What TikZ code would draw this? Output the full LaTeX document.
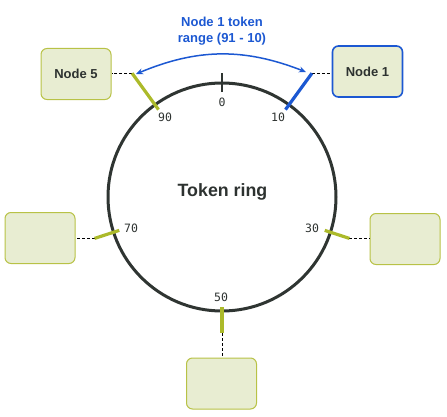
\documentclass[tikz,border=0pt]{standalone}
\usepackage{fontspec}
\setmainfont{Liberation Sans}
\newfontfamily\monofont{DejaVu Sans Mono}
\usetikzlibrary{arrows.meta,calc}
\definecolor{tickolive}{RGB}{172,186,42}
\definecolor{boxfill}{RGB}{232,237,210}
\definecolor{boxline}{RGB}{184,194,70}
\definecolor{ringblue}{RGB}{28,88,210}
\definecolor{ringdark}{RGB}{47,53,50}
\definecolor{labeldark}{RGB}{45,50,48}
\begin{document}
\begin{tikzpicture}[x=1pt,y=1pt,
  nodebox/.style={draw=boxline, line width=1pt, fill=boxfill, rounded corners=6pt,
    minimum width=70pt, minimum height=51pt, inner sep=0pt,
    font=\bfseries\fontsize{13}{15}\selectfont, text=labeldark},
  activebox/.style={nodebox, draw=ringblue, line width=1.6pt},
  tickmark/.style={line width=3.2pt, draw=tickolive},
  tokenlabel/.style={font=\monofont\fontsize{11.5}{13}\selectfont, text=labeldark, inner sep=0pt},
  linkline/.style={dash pattern=on 3pt off 2pt, line width=0.8pt, black}]
\useasboundingbox (0,0) rectangle (447,416);
\coordinate (C) at (222,219);
% ring
\draw[ringdark, line width=3pt] (C) circle (114);
% tick coordinates
\coordinate (t0i) at ($(C)+(90:105)$);
\coordinate (t0o) at ($(C)+(90:124)$);
\coordinate (t10i) at ($(C)+(54:108)$);
\coordinate (t10o) at ($(C)+(54:153)$);
\coordinate (t90i) at ($(C)+(126:108)$);
\coordinate (t90o) at ($(C)+(126:153)$);
\coordinate (t30i) at ($(C)+(-18:108)$);
\coordinate (t30o) at ($(C)+(-18:134)$);
\coordinate (t50i) at ($(C)+(-90:110)$);
\coordinate (t50o) at ($(C)+(-90:136)$);
\coordinate (t70i) at ($(C)+(198:108)$);
\coordinate (t70o) at ($(C)+(198:134)$);
% nodes
\node[activebox] (n1) at (367.5,344.5) {Node 1};
\node[nodebox] (n5) at (76,342) {Node 5};
\node[nodebox] (n70) at (40,178) {};
\node[nodebox] (n30) at (405,177) {};
\node[nodebox] (n50) at (221.5,32.5) {};
% dashed links
\draw[linkline] (t10o) -- (t10o -| n1.west);
\draw[linkline] (t90o) -- (t90o -| n5.east);
\draw[linkline] (t70o) -- (t70o -| n70.east);
\draw[linkline] (t30o) -- (t30o -| n30.west);
\draw[linkline] (t50o) -- (t50o |- n50.north);
% ticks
\draw[ringdark, line width=2.5pt] (t0i) -- (t0o);
\draw[tickmark, draw=ringblue] (t10i) -- (t10o);
\draw[tickmark] (t90i) -- (t90o);
\draw[tickmark] (t30i) -- (t30o);
\draw[tickmark] (t50i) -- (t50o);
\draw[tickmark] (t70i) -- (t70o);
% token labels
\node[tokenlabel] (l0) at (222,314) {0};
\node[tokenlabel] (l90) at (165,299) {90};
\node[tokenlabel] (l10) at (278,299) {10};
\node[tokenlabel] (l70) at (131,188) {70};
\node[tokenlabel] (l30) at (312,188) {30};
\node[tokenlabel] (l50) at (221,119) {50};
% centre title
\node[font=\bfseries\fontsize{17.8}{20}\selectfont, text=labeldark] (ring) at (222.5,224) {Token ring};
% range annotation
\node[font=\bfseries\fontsize{13}{16}\selectfont, text=ringblue, align=center, inner sep=0pt] (range) at (222,385) {Node 1 token\\range (91 - 10)};
\coordinate (a5) at (136,342);
\coordinate (a1) at (306,344);
\draw[ringblue, line width=1.5pt, {Stealth[length=7pt,width=6pt]}-{Stealth[length=7pt,width=6pt]}] (a5) to[bend left=22] (a1);
\end{tikzpicture}
\end{document}
